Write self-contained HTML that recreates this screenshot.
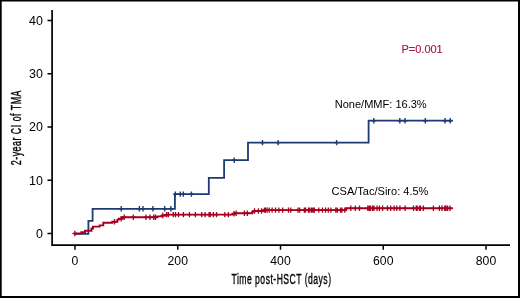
<!DOCTYPE html>
<html><head><meta charset="utf-8"><style>
html,body{margin:0;padding:0;background:#fff;}
body{width:520px;height:298px;overflow:hidden;}
svg{display:block;will-change:transform;}
text{font-family:"Liberation Sans",sans-serif;}
</style></head><body>
<svg width="520" height="298" viewBox="0 0 520 298">
<rect x="0" y="0" width="520" height="298" fill="#fff"/>
<rect x="0" y="0" width="520" height="1.5" fill="#000"/>
<rect x="0" y="0" width="1.7" height="298" fill="#000"/>
<rect x="518" y="0" width="2" height="298" fill="#000"/>
<rect x="0" y="296" width="520" height="2" fill="#000"/>
<path d="M52.1,10V245.1H510" fill="none" stroke="#000" stroke-width="1.7"/>
<path d="M47.5,233.50H52.2M47.5,180.28H52.2M47.5,127.05H52.2M47.5,73.83H52.2M47.5,20.60H52.2M75.00,245V249.8M177.75,245V249.8M280.50,245V249.8M383.25,245V249.8M486.00,245V249.8" fill="none" stroke="#000" stroke-width="1.5"/>
<g font-size="12" fill="#000"><text x="42.9" y="237.90" text-anchor="end" textLength="6.95" lengthAdjust="spacingAndGlyphs">0</text><text x="42.9" y="184.68" text-anchor="end" textLength="13.90" lengthAdjust="spacingAndGlyphs">10</text><text x="42.9" y="131.45" text-anchor="end" textLength="13.90" lengthAdjust="spacingAndGlyphs">20</text><text x="42.9" y="78.23" text-anchor="end" textLength="13.90" lengthAdjust="spacingAndGlyphs">30</text><text x="42.9" y="25.00" text-anchor="end" textLength="13.90" lengthAdjust="spacingAndGlyphs">40</text><text x="75.00" y="264.9" text-anchor="middle" textLength="6.80" lengthAdjust="spacingAndGlyphs">0</text><text x="177.75" y="264.9" text-anchor="middle" textLength="20.40" lengthAdjust="spacingAndGlyphs">200</text><text x="280.50" y="264.9" text-anchor="middle" textLength="20.40" lengthAdjust="spacingAndGlyphs">400</text><text x="383.25" y="264.9" text-anchor="middle" textLength="20.40" lengthAdjust="spacingAndGlyphs">600</text><text x="486.00" y="264.9" text-anchor="middle" textLength="20.40" lengthAdjust="spacingAndGlyphs">800</text></g>
<text x="281.5" y="283.7" font-size="14" text-anchor="middle" letter-spacing="0.8" stroke="#000" stroke-width="0.35" textLength="100" lengthAdjust="spacingAndGlyphs">Time post-HSCT (days)</text>
<text transform="translate(21.3,165.2) rotate(-90)" x="0" y="0" font-size="14" letter-spacing="0.8" stroke="#000" stroke-width="0.35" textLength="75.2" lengthAdjust="spacingAndGlyphs">2-year CI of TMA</text>
<text x="401.5" y="53.1" font-size="11" fill="#ac1540" stroke="#ac1540" stroke-width="0.15" textLength="41.2" lengthAdjust="spacingAndGlyphs">P=0.001</text>
<text x="334.7" y="107.6" font-size="10.3" fill="#000" textLength="92" lengthAdjust="spacingAndGlyphs">None/MMF: 16.3%</text>
<text x="331.6" y="194.7" font-size="10.3" fill="#000" textLength="96.8" lengthAdjust="spacingAndGlyphs">CSA/Tac/Siro: 4.5%</text>
<path d="M74.8,233.8 H88.4 V220.9 H92.6 V208.8 H174.9 V194.1 H208.8 V177.8 H224.1 V160.2 H248.0 V142.6 H368.6 V120.7 H452.8" fill="none" stroke="#1d3a75" stroke-width="1.8" stroke-linejoin="miter" stroke-linecap="butt"/>
<path d="M121.2,206.10000000000002V211.5M118.8,208.8H123.60000000000001M139.4,206.10000000000002V211.5M137.0,208.8H141.8M143,206.10000000000002V211.5M140.6,208.8H145.4M152.9,206.10000000000002V211.5M150.5,208.8H155.3M164.7,206.10000000000002V211.5M162.29999999999998,208.8H167.1M170.9,206.10000000000002V211.5M168.5,208.8H173.3M175.3,191.4V196.79999999999998M172.9,194.1H177.70000000000002M180.3,191.4V196.79999999999998M177.9,194.1H182.70000000000002M183.3,191.4V196.79999999999998M180.9,194.1H185.70000000000002M191.4,191.4V196.79999999999998M189.0,194.1H193.8M234.2,157.5V162.89999999999998M231.79999999999998,160.2H236.6M262.5,139.9V145.29999999999998M260.1,142.6H264.9M278.1,139.9V145.29999999999998M275.70000000000005,142.6H280.5M336.6,139.9V145.29999999999998M334.20000000000005,142.6H339.0M373.8,118.0V123.4M371.40000000000003,120.7H376.2M399.8,118.0V123.4M397.40000000000003,120.7H402.2M405,118.0V123.4M402.6,120.7H407.4M425.3,118.0V123.4M422.90000000000003,120.7H427.7M445,118.0V123.4M442.6,120.7H447.4M450.2,118.0V123.4M447.8,120.7H452.59999999999997" fill="none" stroke="#1d3a75" stroke-width="1.4"/>
<path d="M74.8,233.5 H81.3 V232.1 H85.0 V230.8 H91.5 V228.5 H93.0 V226.6 H99.7 V225.4 H103.3 V222.7 H112.2 V221.8 H117.4 V219.6 H118.9 V218.7 H122.2 V217.2 H157.4 V216.4 H162.3 V215.5 H166.4 V214.6 H232.6 V213.8 H234.6 V213.2 H252.2 V211.8 H254.3 V211.0 H263.6 V210.1 H346.0 V208.3 H452.8" fill="none" stroke="#a3001f" stroke-width="1.9" stroke-linejoin="miter" stroke-linecap="butt"/>
<path d="M74.8,230.8V236.2M72.39999999999999,233.5H77.2M114.5,219.10000000000002V224.5M112.1,221.8H116.9M121.1,216.0V221.39999999999998M118.69999999999999,218.7H123.5M124.2,214.5V219.89999999999998M121.8,217.2H126.60000000000001M133.3,214.5V219.89999999999998M130.9,217.2H135.70000000000002M145.9,214.5V219.89999999999998M143.5,217.2H148.3M149.9,214.5V219.89999999999998M147.5,217.2H152.3M153.7,214.5V219.89999999999998M151.29999999999998,217.2H156.1M155.5,214.5V219.89999999999998M153.1,217.2H157.9M162.8,212.8V218.2M160.4,215.5H165.20000000000002M166.6,211.9V217.29999999999998M164.2,214.6H169.0M168.4,211.9V217.29999999999998M166.0,214.6H170.8M173.3,211.9V217.29999999999998M170.9,214.6H175.70000000000002M175.5,211.9V217.29999999999998M173.1,214.6H177.9M178.5,211.9V217.29999999999998M176.1,214.6H180.9M183.4,211.9V217.29999999999998M181.0,214.6H185.8M189.4,211.9V217.29999999999998M187.0,214.6H191.8M195.4,211.9V217.29999999999998M193.0,214.6H197.8M201.7,211.9V217.29999999999998M199.29999999999998,214.6H204.1M205.1,211.9V217.29999999999998M202.7,214.6H207.5M209.1,211.9V217.29999999999998M206.7,214.6H211.5M210.2,211.9V217.29999999999998M207.79999999999998,214.6H212.6M213.4,211.9V217.29999999999998M211.0,214.6H215.8M216.5,211.9V217.29999999999998M214.1,214.6H218.9M224.8,211.9V217.29999999999998M222.4,214.6H227.20000000000002M228.3,211.9V217.29999999999998M225.9,214.6H230.70000000000002M234.0,211.10000000000002V216.5M231.6,213.8H236.4M236.1,210.5V215.89999999999998M233.7,213.2H238.5M244.4,210.5V215.89999999999998M242.0,213.2H246.8M247.3,210.5V215.89999999999998M244.9,213.2H249.70000000000002M254.5,208.3V213.7M252.1,211.0H256.9M258.4,208.3V213.7M255.99999999999997,211.0H260.79999999999995M261.5,208.3V213.7M259.1,211.0H263.9M264.4,207.4V212.79999999999998M262.0,210.1H266.79999999999995M265.4,207.4V212.79999999999998M263.0,210.1H267.79999999999995M267.1,207.4V212.79999999999998M264.70000000000005,210.1H269.5M269.2,207.4V212.79999999999998M266.8,210.1H271.59999999999997M272.1,207.4V212.79999999999998M269.70000000000005,210.1H274.5M275.5,207.4V212.79999999999998M273.1,210.1H277.9M278.9,207.4V212.79999999999998M276.5,210.1H281.29999999999995M282.7,207.4V212.79999999999998M280.3,210.1H285.09999999999997M288.5,207.4V212.79999999999998M286.1,210.1H290.9M290.8,207.4V212.79999999999998M288.40000000000003,210.1H293.2M298,207.4V212.79999999999998M295.6,210.1H300.4M299.7,207.4V212.79999999999998M297.3,210.1H302.09999999999997M304.3,207.4V212.79999999999998M301.90000000000003,210.1H306.7M305.5,207.4V212.79999999999998M303.1,210.1H307.9M308.4,207.4V212.79999999999998M306.0,210.1H310.79999999999995M309.8,207.4V212.79999999999998M307.40000000000003,210.1H312.2M311.6,207.4V212.79999999999998M309.20000000000005,210.1H314.0M313,207.4V212.79999999999998M310.6,210.1H315.4M314.4,207.4V212.79999999999998M312.0,210.1H316.79999999999995M318.8,207.4V212.79999999999998M316.40000000000003,210.1H321.2M322.4,207.4V212.79999999999998M320.0,210.1H324.79999999999995M325.5,207.4V212.79999999999998M323.1,210.1H327.9M328.3,207.4V212.79999999999998M325.90000000000003,210.1H330.7M330.9,207.4V212.79999999999998M328.5,210.1H333.29999999999995M335.8,207.4V212.79999999999998M333.40000000000003,210.1H338.2M337.3,207.4V212.79999999999998M334.90000000000003,210.1H339.7M340.5,207.4V212.79999999999998M338.1,210.1H342.9M341.9,207.4V212.79999999999998M339.5,210.1H344.29999999999995M344.8,207.4V212.79999999999998M342.40000000000003,210.1H347.2M350.8,205.60000000000002V211.0M348.40000000000003,208.3H353.2M355.3,205.60000000000002V211.0M352.90000000000003,208.3H357.7M359.5,205.60000000000002V211.0M357.1,208.3H361.9M367.8,205.60000000000002V211.0M365.40000000000003,208.3H370.2M369.3,205.60000000000002V211.0M366.90000000000003,208.3H371.7M370.4,205.60000000000002V211.0M368.0,208.3H372.79999999999995M372.5,205.60000000000002V211.0M370.1,208.3H374.9M373.9,205.60000000000002V211.0M371.5,208.3H376.29999999999995M377.1,205.60000000000002V211.0M374.70000000000005,208.3H379.5M379.4,205.60000000000002V211.0M377.0,208.3H381.79999999999995M382.6,205.60000000000002V211.0M380.20000000000005,208.3H385.0M387.5,205.60000000000002V211.0M385.1,208.3H389.9M390.7,205.60000000000002V211.0M388.3,208.3H393.09999999999997M394.1,205.60000000000002V211.0M391.70000000000005,208.3H396.5M396.7,205.60000000000002V211.0M394.3,208.3H399.09999999999997M399.9,205.60000000000002V211.0M397.5,208.3H402.29999999999995M405.1,205.60000000000002V211.0M402.70000000000005,208.3H407.5M413.5,205.60000000000002V211.0M411.1,208.3H415.9M416.3,205.60000000000002V211.0M413.90000000000003,208.3H418.7M417.2,205.60000000000002V211.0M414.8,208.3H419.59999999999997M419.5,205.60000000000002V211.0M417.1,208.3H421.9M420.4,205.60000000000002V211.0M418.0,208.3H422.79999999999995M423.3,205.60000000000002V211.0M420.90000000000003,208.3H425.7M433.4,205.60000000000002V211.0M431.0,208.3H435.79999999999995M439.4,205.60000000000002V211.0M437.0,208.3H441.79999999999995M442,205.60000000000002V211.0M439.6,208.3H444.4M444.8,205.60000000000002V211.0M442.40000000000003,208.3H447.2M446,205.60000000000002V211.0M443.6,208.3H448.4M447.6,205.60000000000002V211.0M445.20000000000005,208.3H450.0M450,205.60000000000002V211.0M447.6,208.3H452.4" fill="none" stroke="#a3001f" stroke-width="1.3"/>
</svg>
</body></html>
